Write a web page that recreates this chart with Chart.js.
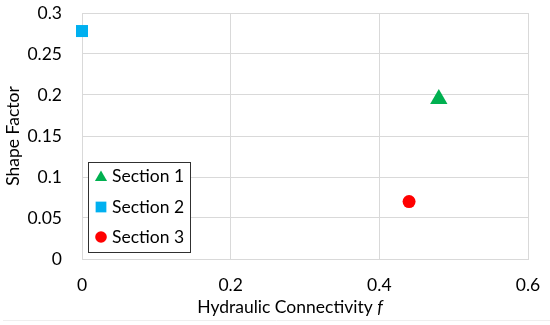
<!DOCTYPE html>
<html>
<head>
<meta charset="utf-8">
<script src="https://cdn.jsdelivr.net/npm/chart.js@4"></script>
<style>
html,body{margin:0;padding:0;background:#fff;}
#wrap{width:550px;height:325px;}
</style>
</head>
<body>
<div id="wrap"><canvas id="c" width="550" height="325"></canvas></div>
<script>
const seriesNames = ["Section 1", "Section 2", "Section 3"];
const section1 = [{x: 0.48, y: 0.195}];
const section2 = [{x: 0.0, y: 0.278}];
const section3 = [{x: 0.44, y: 0.07}];
const xTicks = [0, 0.2, 0.4, 0.6];
const yTicks = [0, 0.05, 0.1, 0.15, 0.2, 0.25, 0.3];
const xTitle = "Hydraulic Connectivity ";
const xTitleItalic = "f";
const yTitle = "Shape Factor";

const FONT = "Lato, 'DejaVu Sans', sans-serif";
const FS = 17.5;
const colors = ["#00b050", "#00b0f0", "#ff0000"];
const styles = ["triangle", "rect", "circle"];
const radii = [10, 8.5, 6.5];

function drawMarker(ctx, style, x, y, size, color) {
  ctx.save();
  ctx.fillStyle = color;
  ctx.beginPath();
  if (style === "triangle") {
    const w = size * 0.866;
    ctx.moveTo(x, y - size);
    ctx.lineTo(x + w, y + size / 2);
    ctx.lineTo(x - w, y + size / 2);
    ctx.closePath();
  } else if (style === "rect") {
    ctx.rect(x - size * 0.707, y - size * 0.707, size * 1.414, size * 1.414);
  } else {
    ctx.arc(x, y, size, 0, Math.PI * 2);
  }
  ctx.fill();
  ctx.restore();
}

const overlay = {
  id: "overlay",
  afterDraw(chart) {
    const ctx = chart.ctx;
    const ca = chart.chartArea;
    ctx.save();
    // faint outer frame line at bottom
    ctx.strokeStyle = "#eeeeee";
    ctx.lineWidth = 1;
    ctx.beginPath();
    ctx.moveTo(3, 320.5);
    ctx.lineTo(550, 320.5);
    ctx.stroke();
    ctx.fillStyle = "#000";
    ctx.textBaseline = "middle";
    ctx.font = FS + "px " + FONT;
    const w1 = ctx.measureText(xTitle).width;
    ctx.font = "italic " + FS + "px " + FONT;
    const w2 = ctx.measureText(xTitleItalic).width;
    const cx = 290;
    const sx = cx - (w1 + w2) / 2;
    ctx.font = FS + "px " + FONT;
    ctx.textAlign = "left";
    ctx.fillText(xTitle, sx, 307);
    ctx.font = "italic " + FS + "px " + FONT;
    ctx.fillText(xTitleItalic, sx + w1, 307);
    ctx.save();
    ctx.translate(13, (ca.top + ca.bottom) / 2);
    ctx.rotate(-Math.PI / 2);
    ctx.font = FS + "px " + FONT;
    ctx.textAlign = "center";
    ctx.fillText(yTitle, 0, 0);
    ctx.restore();
    const lx = 88.5, ly = 162.5, lw = 102, lh = 90;
    ctx.fillStyle = "#fff";
    ctx.fillRect(lx, ly, lw, lh);
    ctx.strokeStyle = "#303030";
    ctx.lineWidth = 1;
    ctx.strokeRect(lx, ly, lw, lh);
    const ys = [176, 207, 237];
    const msz = [7, 7.6, 5.8];
    for (let i = 0; i < seriesNames.length; i++) {
      drawMarker(ctx, styles[i], 101, ys[i] + (i === 0 ? 1.5 : 0), msz[i], colors[i]);
      ctx.fillStyle = "#000";
      ctx.font = FS + "px " + FONT;
      ctx.textAlign = "left";
      ctx.textBaseline = "middle";
      ctx.fillText(seriesNames[i], 112, ys[i]);
    }
    ctx.restore();
  }
};

const datasets = [section1, section2, section3].map((d, i) => ({
  label: seriesNames[i],
  data: d,
  pointStyle: styles[i],
  pointRadius: radii[i],
  pointHoverRadius: radii[i],
  backgroundColor: colors[i],
  borderColor: colors[i],
  borderWidth: 0,
  showLine: false,
  clip: false
}));

new Chart(document.getElementById("c"), {
  type: "scatter",
  data: { datasets },
  options: {
    responsive: false,
    animation: false,
    events: [],
    layout: { padding: 0 },
    plugins: { legend: { display: false }, tooltip: { enabled: false } },
    scales: {
      x: {
        type: "linear",
        min: 0, max: 0.6,
        afterBuildTicks(s) { s.ticks = xTicks.map(v => ({ value: v })); },
        afterFit(s) { s.height = 66; s.paddingLeft = 0; s.paddingRight = 22; },
        ticks: {
          color: "#000",
          font: { family: FONT, size: FS },
          padding: 16,
          maxRotation: 0,
          callback: v => String(v)
        },
        grid: { color: "#d9d9d9", drawTicks: false, lineWidth: 1 },
        border: { display: true, color: "#d9d9d9" },
        title: { display: false }
      },
      y: {
        type: "linear",
        min: 0, max: 0.3,
        afterBuildTicks(s) { s.ticks = yTicks.map(v => ({ value: v })); },
        afterFit(s) { s.width = 82; s.paddingTop = 13; s.paddingBottom = 0; },
        ticks: {
          color: "#000",
          font: { family: FONT, size: FS },
          padding: 20,
          callback: v => String(v)
        },
        grid: { color: "#d9d9d9", drawTicks: false, lineWidth: 1 },
        border: { display: true, color: "#d9d9d9" },
        title: { display: false }
      }
    }
  },
  plugins: [overlay]
});
</script>
</body>
</html>
